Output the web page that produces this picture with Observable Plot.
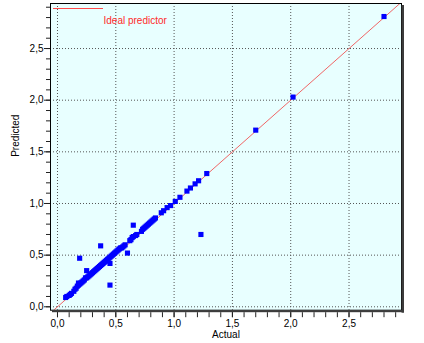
<!DOCTYPE html>
<html><head><meta charset="utf-8">
<script src="https://cdn.jsdelivr.net/npm/d3@7"></script>
<script src="https://cdn.jsdelivr.net/npm/@observablehq/plot@0.6"></script>
<style>body{margin:0;background:#fff;}</style>
</head><body><div id="chart"></div>
<script>
const actual = [0.07,0.08,0.10,0.11,0.12,0.14,0.15,0.16,0.17,0.18,0.18,0.19,0.20,0.21,0.22,0.23,0.24,0.25,0.26,0.27,0.28,0.29,0.30,0.31,0.32,0.33,0.34,0.35,0.36,0.37,0.38,0.39,0.40,0.41,0.42,0.43,0.44,0.45,0.45,0.46,0.47,0.48,0.49,0.50,0.51,0.52,0.53,0.54,0.55,0.56,0.57,0.58,0.62,0.63,0.64,0.65,0.67,0.68,0.72,0.73,0.74,0.75,0.76,0.77,0.78,0.79,0.80,0.81,0.82,0.83,0.84,0.89,0.91,0.94,0.97,1.01,1.05,1.11,1.14,1.18,1.21,1.28,
  0.19,0.37,0.45,0.60,0.65,1.23,0.25,1.70,2.02,2.80];
const predicted = [0.09,0.10,0.11,0.12,0.13,0.15,0.17,0.18,0.20,0.21,0.23,0.22,0.23,0.24,0.25,0.26,0.28,0.28,0.29,0.30,0.31,0.32,0.33,0.34,0.35,0.36,0.37,0.38,0.39,0.40,0.41,0.42,0.43,0.44,0.45,0.46,0.47,0.42,0.48,0.49,0.50,0.51,0.52,0.53,0.54,0.55,0.56,0.57,0.57,0.58,0.59,0.60,0.64,0.65,0.67,0.68,0.69,0.70,0.73,0.75,0.76,0.77,0.78,0.79,0.80,0.81,0.82,0.83,0.84,0.85,0.86,0.91,0.93,0.96,0.98,1.02,1.06,1.12,1.15,1.19,1.22,1.29,
  0.47,0.59,0.21,0.52,0.79,0.70,0.35,1.71,2.03,2.81];
const majorTicks = [0, 0.5, 1.0, 1.5, 2.0, 2.5];
const minorTicks = [0,0.1,0.2,0.3,0.4,0.5,0.6,0.7,0.8,0.9,1.0,1.1,1.2,1.3,1.4,1.5,1.6,1.7,1.8,1.9,2.0,2.1,2.2,2.3,2.4,2.5,2.6,2.7,2.8,2.9];
const idealLine = [-0.2, 3.2];
const xDomain = [-0.06, 2.95];
const yDomain = [-0.033, 2.936];
const legendLabel = "Ideal predictor";
const xLabel = "Actual";
const yLabel = "Predicted";

const points = actual.map((a, i) => ({actual: a, predicted: predicted[i]}));
const ideal = idealLine.map(v => ({x: v, y: v}));
const fmt = d => d.toFixed(1).replace(".", ",");
const blank = () => "";

const decorations = (index, scales, values, dims) => {
  const L = dims.marginLeft, R = dims.width - dims.marginRight;
  const T = dims.marginTop, B = dims.height - dims.marginBottom;
  const g = d3.create("svg:g");
  g.append("rect").attr("x", R + 0.5).attr("y", T + 2).attr("width", 2.5).attr("height", B - T + 1).attr("fill", "#3c3c3c");
  g.append("rect").attr("x", L + 2).attr("y", B + 0.5).attr("width", R - L + 1).attr("height", 2).attr("fill", "#3c3c3c");
  g.append("line").attr("x1", L + 3).attr("x2", L + 53).attr("y1", T + 5.5).attr("y2", T + 5.5).attr("stroke", "#ff4a4a").attr("stroke-width", 1);
  return g.node();
};

const chart = Plot.plot({
  width: 424, height: 343,
  marginLeft: 50, marginRight: 23, marginTop: 3, marginBottom: 33.3,
  style: {fontFamily: "'Liberation Sans', Arial, sans-serif", fontSize: "10px", background: "white", color: "black"},
  x: {domain: xDomain},
  y: {domain: yDomain},
  marks: [
    Plot.frame({fill: "#e8ffff"}),
    Plot.gridX(majorTicks, {stroke: "#555", strokeOpacity: 1, strokeDasharray: "1,2"}),
    Plot.gridY(majorTicks, {stroke: "#555", strokeOpacity: 1, strokeDasharray: "1,2"}),
    Plot.line(ideal, {x: "x", y: "y", stroke: "#f06666", strokeWidth: 1, clip: true}),
    Plot.dot(points, {x: "actual", y: "predicted", symbol: "square", r: 2.9, fill: "#0000ff", stroke: "none"}),
    Plot.frame({stroke: "black", strokeWidth: 1}),
    decorations,
    Plot.text([legendLabel], {frameAnchor: "top-left", dx: 53, dy: 13.5, textAnchor: "start", fill: "#ff2a2a"}),
    Plot.axisY(minorTicks, {tickSize: 4, tickFormat: blank, label: null, stroke: "#222"}),
    Plot.axisY(majorTicks, {tickSize: 6, tickPadding: 1, tickFormat: fmt, label: null, stroke: "#222"}),
    Plot.axisX(minorTicks, {tickSize: 5, dy: 2.5, tickFormat: blank, label: null, stroke: "#222"}),
    Plot.axisX(majorTicks, {tickSize: 5, dy: 2.5, tickPadding: 2, tickFormat: fmt, label: null, stroke: "#222"}),
    Plot.text([yLabel], {frameAnchor: "left", dx: -35, rotate: -90}),
    Plot.text([xLabel], {frameAnchor: "bottom", dy: 27.5})
  ]
});
document.getElementById("chart").appendChild(chart);
</script>
</body></html>
